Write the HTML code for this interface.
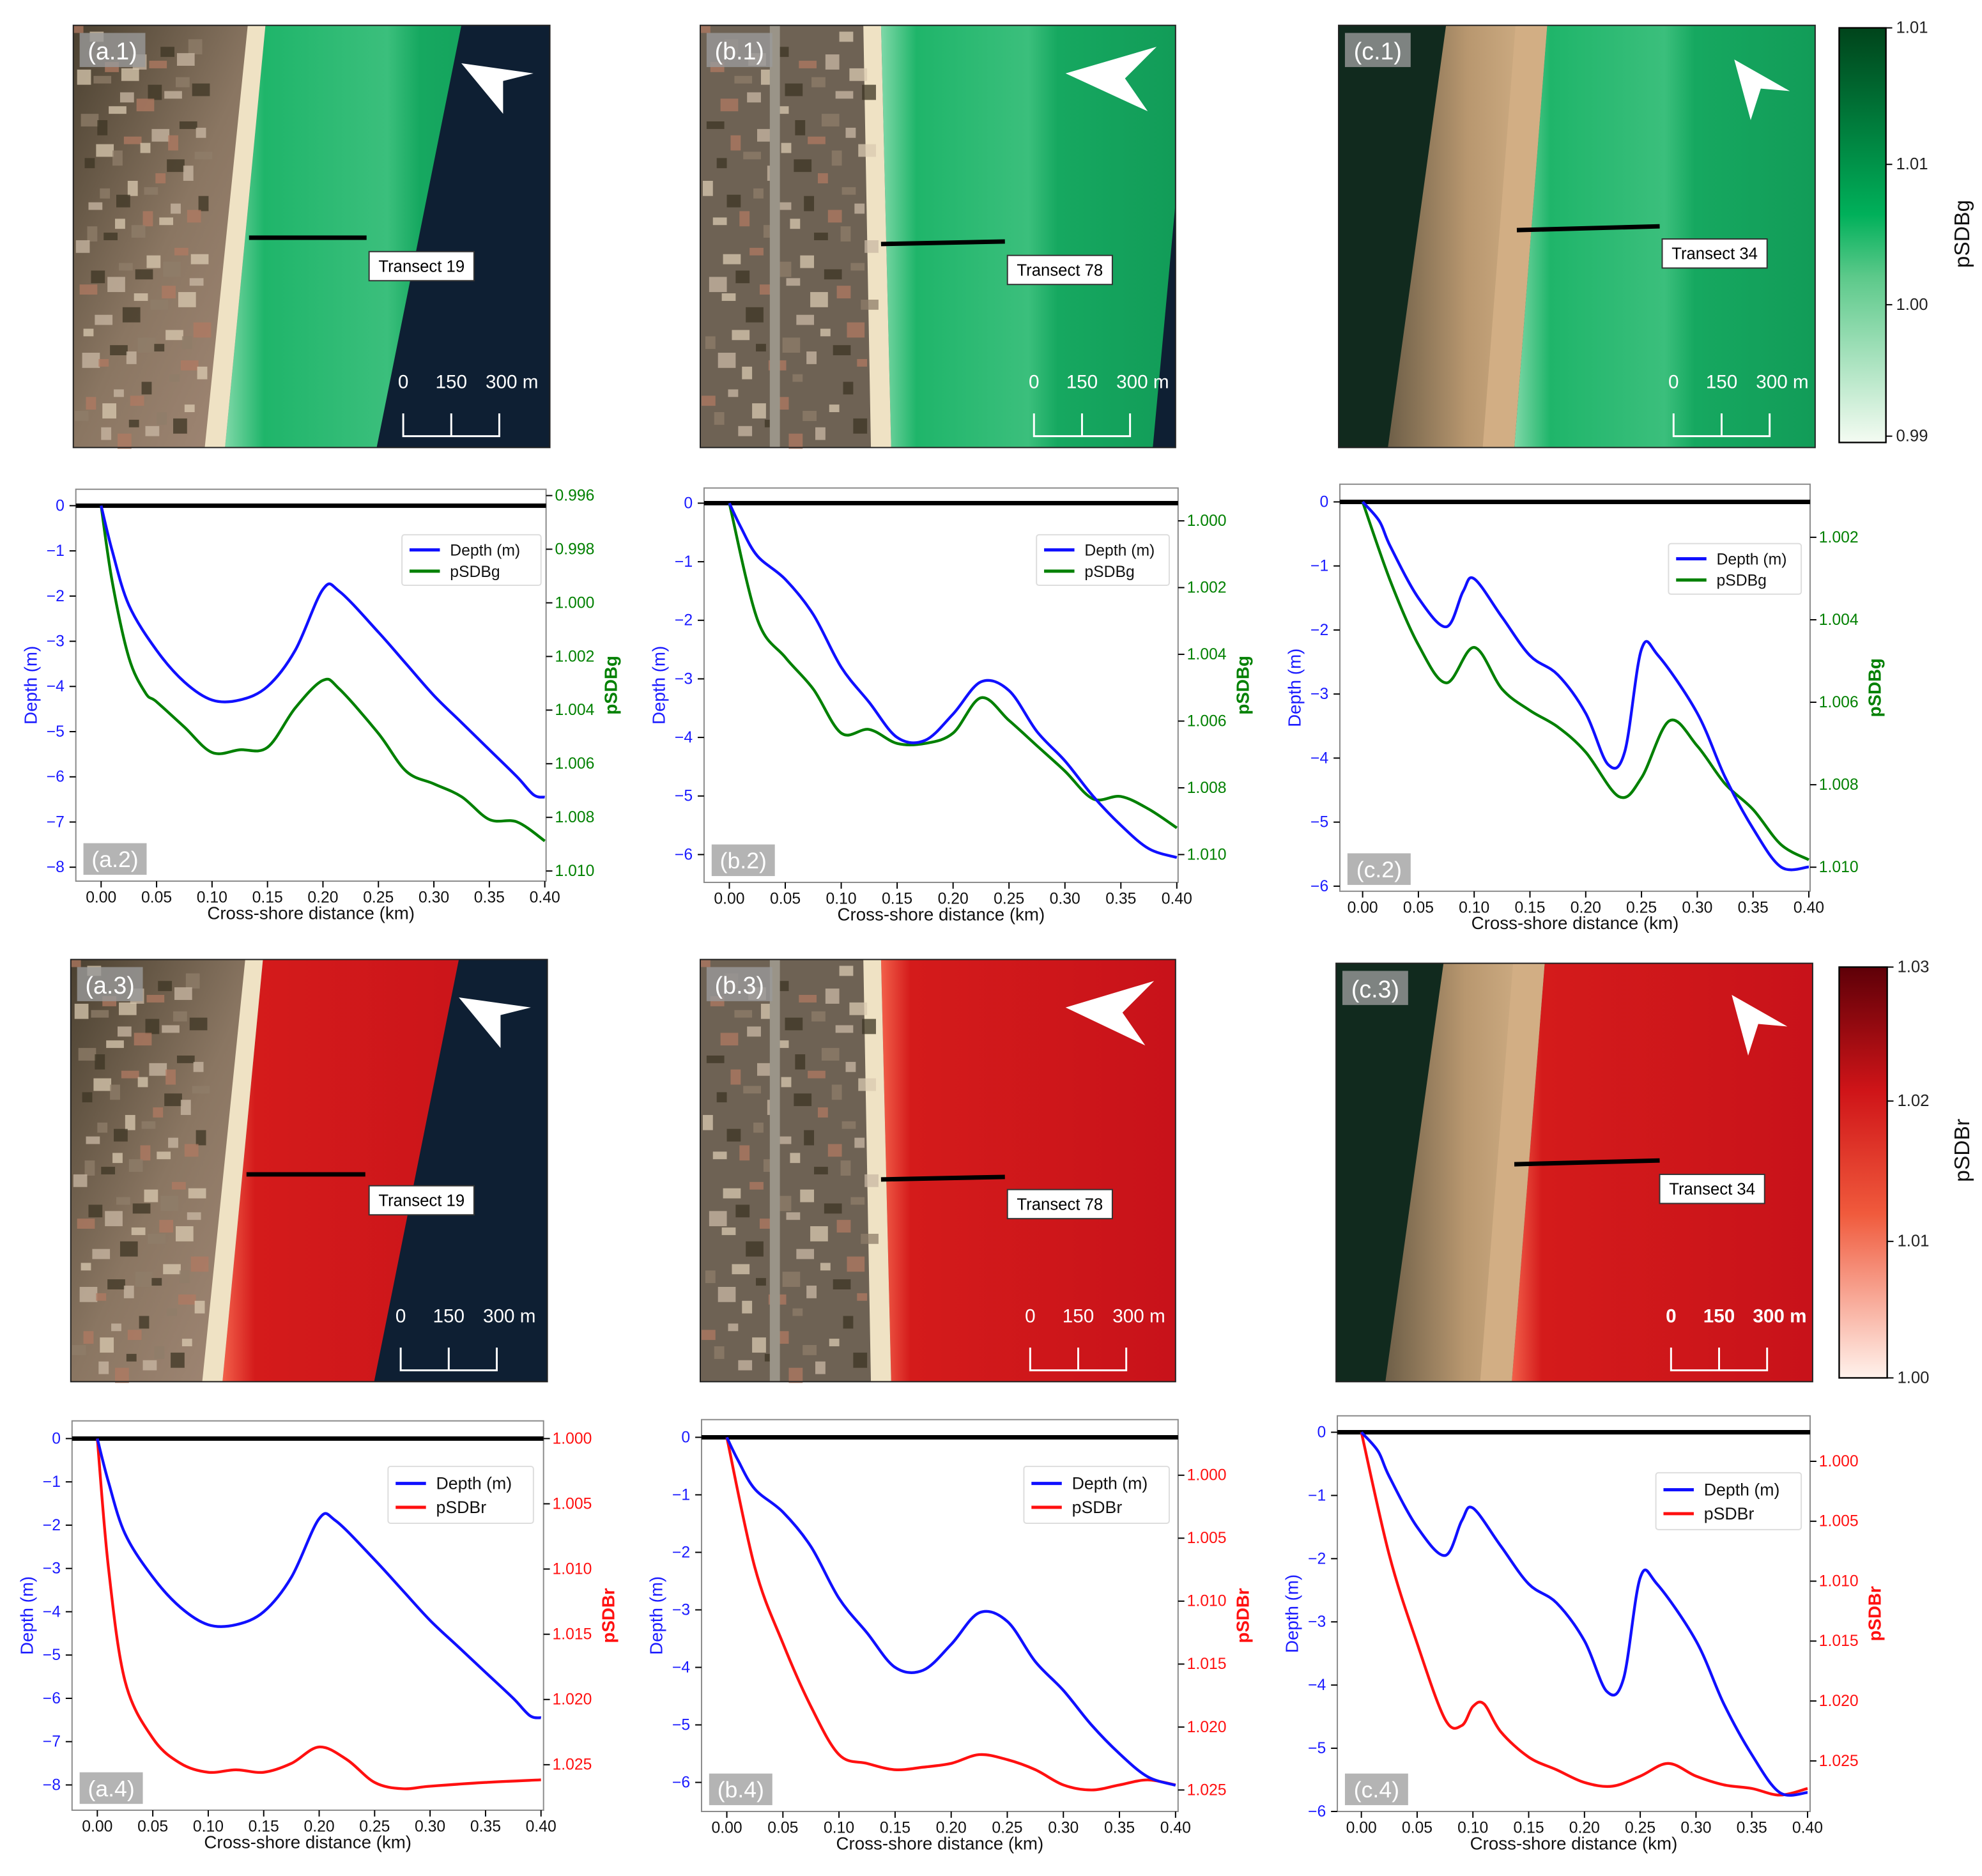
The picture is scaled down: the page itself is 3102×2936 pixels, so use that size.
<!DOCTYPE html>
<html><head><meta charset="utf-8"><style>
html,body{margin:0;padding:0;background:#fff}
svg{display:block;font-family:"Liberation Sans",sans-serif}
</style></head><body>
<svg id="fig" xmlns="http://www.w3.org/2000/svg" width="3102" height="2936" viewBox="0 0 1568 1484">
<defs>
<linearGradient id="gcb" x1="0" y1="0" x2="0" y2="1"><stop offset="0" stop-color="#00441b"/><stop offset="0.45" stop-color="#00b05a"/><stop offset="0.6" stop-color="#5cc98a"/><stop offset="1" stop-color="#f4fbf2"/></linearGradient>
<linearGradient id="rcb" x1="0" y1="0" x2="0" y2="1"><stop offset="0" stop-color="#5e0008"/><stop offset="0.3" stop-color="#cf1418"/><stop offset="0.6" stop-color="#f05a3c"/><stop offset="1" stop-color="#fff2ec"/></linearGradient>
<linearGradient id="gw" x1="0" y1="0" x2="1" y2="0"><stop offset="0" stop-color="#7fd8a8"/><stop offset="0.12" stop-color="#1fb56a"/><stop offset="0.5" stop-color="#3bbf7c"/><stop offset="0.6" stop-color="#16a860"/><stop offset="1" stop-color="#129c58"/></linearGradient>
<linearGradient id="rw" x1="0" y1="0" x2="1" y2="0"><stop offset="0" stop-color="#f2604a"/><stop offset="0.1" stop-color="#d41b1b"/><stop offset="1" stop-color="#c8121a"/></linearGradient>
<linearGradient id="townl" x1="0" y1="0" x2="1" y2="1"><stop offset="0" stop-color="#4a4030"/><stop offset="0.5" stop-color="#8a7662"/><stop offset="1" stop-color="#a58a78"/></linearGradient>
<linearGradient id="dune" x1="0" y1="0" x2="1" y2="0"><stop offset="0" stop-color="#10261c"/><stop offset="0.45" stop-color="#1d3326"/><stop offset="0.7" stop-color="#8a7458"/><stop offset="1" stop-color="#d4b088"/></linearGradient>
<linearGradient id="sandg" x1="0" y1="0" x2="1" y2="0"><stop offset="0" stop-color="#6e5f48"/><stop offset="0.5" stop-color="#b8976f"/><stop offset="1" stop-color="#d6b48a"/></linearGradient>
</defs>
<g id="imgs"></g>
<g id="charts"></g>
</svg>
<script>
// ---------- chart data ----------
const xTicks=[0,0.05,0.10,0.15,0.20,0.25,0.30,0.35,0.40];
const xTickLabels=["0.00","0.05","0.10","0.15","0.20","0.25","0.30","0.35","0.40"];
const aDepthX=[0,0.01,0.025,0.05,0.075,0.1,0.125,0.15,0.175,0.2,0.215,0.25,0.275,0.3,0.325,0.35,0.375,0.39,0.4];
const aDepth=[0,-1,-2.2,-3.2,-3.9,-4.3,-4.3,-4.0,-3.2,-1.85,-1.9,-2.8,-3.5,-4.2,-4.8,-5.4,-6.0,-6.4,-6.45];
const aGreenX=[0,0.01,0.025,0.04,0.05,0.075,0.1,0.125,0.15,0.175,0.2,0.215,0.25,0.275,0.3,0.325,0.35,0.375,0.4];
const aGreen=[0.99638,0.99921,1.00204,1.00336,1.00369,1.00463,1.00558,1.00548,1.00539,1.00392,1.00289,1.00322,1.00487,1.00628,1.00675,1.00723,1.00808,1.00817,1.00888];
const aRedX=[0,0.01,0.025,0.05,0.075,0.1,0.125,0.15,0.175,0.2,0.225,0.25,0.275,0.3,0.35,0.4];
const aRed=[1.0,1.00988,1.0186,1.02297,1.0249,1.02558,1.02539,1.02558,1.0249,1.02364,1.02461,1.02636,1.02684,1.02665,1.02636,1.02616];
const bDepthX=[0,0.01,0.025,0.05,0.075,0.1,0.125,0.15,0.175,0.2,0.225,0.25,0.275,0.3,0.325,0.35,0.375,0.4];
const bDepth=[0,-0.4,-0.9,-1.3,-1.9,-2.8,-3.4,-4.0,-4.05,-3.6,-3.05,-3.2,-3.9,-4.4,-5.0,-5.5,-5.9,-6.05];
const bGreenX=[0,0.025,0.05,0.075,0.1,0.125,0.15,0.175,0.2,0.225,0.25,0.275,0.3,0.325,0.35,0.375,0.4];
const bGreen=[0.99947,1.00295,1.00409,1.00504,1.00636,1.00625,1.00667,1.00667,1.00636,1.0053,1.00598,1.00674,1.0075,1.00833,1.00826,1.00864,1.0092];
const bRedX=[0,0.025,0.05,0.075,0.1,0.125,0.15,0.175,0.2,0.225,0.25,0.275,0.3,0.325,0.35,0.375,0.4];
const bRed=[0.99699,1.00733,1.01335,1.01837,1.02219,1.02289,1.02339,1.02319,1.02289,1.02219,1.02259,1.02339,1.0246,1.025,1.0246,1.0242,1.0246];
const cDepthX=[0,0.015,0.025,0.05,0.075,0.09,0.1,0.125,0.15,0.175,0.2,0.22,0.235,0.25,0.265,0.3,0.325,0.35,0.375,0.4];
const cDepth=[0,-0.3,-0.7,-1.5,-1.95,-1.4,-1.2,-1.8,-2.4,-2.7,-3.3,-4.1,-3.9,-2.3,-2.4,-3.3,-4.3,-5.1,-5.7,-5.7];
const cGreenX=[0,0.025,0.05,0.075,0.1,0.125,0.15,0.175,0.2,0.23,0.25,0.275,0.3,0.325,0.35,0.375,0.4];
const cGreen=[1.00114,1.00307,1.00461,1.00553,1.00467,1.00568,1.0062,1.0066,1.00721,1.00829,1.00783,1.00645,1.00706,1.00798,1.0086,1.00945,1.00982];
const cRedX=[0,0.025,0.05,0.075,0.09,0.1,0.11,0.125,0.15,0.175,0.2,0.225,0.25,0.275,0.3,0.325,0.35,0.375,0.4];
const cRed=[0.99757,1.00781,1.01519,1.02152,1.02205,1.02046,1.02025,1.02257,1.02468,1.02574,1.0268,1.02711,1.02627,1.02521,1.02627,1.027,1.0273,1.02785,1.0273];
const depthTicks8=[0,-1,-2,-3,-4,-5,-6,-7,-8];
const depthTicks6=[0,-1,-2,-3,-4,-5,-6];
const gTicksA=[0.996,0.998,1.000,1.002,1.004,1.006,1.008,1.010];
const gTicksB=[1.000,1.002,1.004,1.006,1.008,1.010];
const gTicksC=[1.002,1.004,1.006,1.008,1.010];
const rTicks=[1.000,1.005,1.010,1.015,1.020,1.025];

const NS="http://www.w3.org/2000/svg";
function mk(tag,attrs,parent,txt){const e=document.createElementNS(NS,tag);for(const k in attrs)e.setAttribute(k,attrs[k]);if(txt!==undefined)e.textContent=txt;if(parent)parent.appendChild(e);return e;}

// ---------- images ----------
const imgs=document.getElementById('imgs');
const panels=[
 {id:'a.1',x:58,y:20,w:377,h:334,kind:'town',shore:[210,178],deep:[[365,20],[298,354]],water:'gw',tr:[197,188,290,188],lab:[292,199,'Transect 19'],arrow:[[365,50],[422,58],[398,64],[398,90]],sb:319},
 {id:'b.1',x:554,y:20,w:376,h:334,kind:'town2',shore:[697,705],deep:null,water:'gw',tr:[697,193,795,191],lab:[797,202,'Transect 78'],arrow:[[843,58],[915,37],[890,62],[908,88]],sb:818},
 {id:'c.1',x:1059,y:20,w:377,h:334,kind:'dune',shore:[1224,1198],deep:null,water:'gw',tr:[1200,182,1313,179],lab:[1315,189,'Transect 34'],arrow:[[1372,47],[1416,72],[1393,70],[1385,95]],sb:1324},
 {id:'a.3',x:56,y:759,w:377,h:334,kind:'town',shore:[208,176],deep:[[363,759],[296,1093]],water:'rw',tr:[195,929,289,929],lab:[292,938,'Transect 19'],arrow:[[363,789],[420,797],[396,803],[396,829]],sb:317},
 {id:'b.3',x:554,y:759,w:376,h:334,kind:'town2',shore:[697,705],deep:null,water:'rw',tr:[697,933,795,931],lab:[797,941,'Transect 78'],arrow:[[843,797],[913,776],[888,801],[906,827]],sb:815},
 {id:'c.3',x:1057,y:762,w:377,h:331,kind:'dune',shore:[1222,1196],deep:null,water:'rw',tr:[1198,921,1313,918],lab:[1313,929,'Transect 34'],arrow:[[1370,787],[1414,812],[1391,810],[1383,835]],sb:1322}
];
panels.forEach(p=>{
 const g=mk('g',{},imgs);
 
 
 const x1=p.x+p.w,y1=p.y+p.h;
 mk('rect',{x:p.x,y:p.y,width:p.w,height:p.h,fill:p.water==='gw'?'#14a45c':'#cb141b'},g);
 mk('polygon',{points:`${p.shore[0]},${p.y} ${x1},${p.y} ${x1},${y1} ${p.shore[1]},${y1}`,fill:`url(#${p.water})`},g);
 if(p.deep){mk('polygon',{points:`${p.deep[0][0]},${p.deep[0][1]} ${x1},${p.deep[0][1]} ${x1},${y1} ${p.deep[1][0]},${p.deep[1][1]}`,fill:'#0e1f33'},g);}
 if(p.id==='b.1'){mk('polygon',{points:`930,160 930,354 912,354`,fill:'#0e1f33'},g);}
 if(p.kind==='dune'){
  mk('polygon',{points:`${p.x},${p.y} ${p.shore[0]},${p.y} ${p.shore[1]},${y1} ${p.x},${y1}`,fill:'#112a1e'},g);
  mk('polygon',{points:`${p.shore[0]-80},${p.y} ${p.shore[0]},${p.y} ${p.shore[1]},${y1} ${p.shore[1]-100},${y1}`,fill:'url(#sandg)'},g);
  mk('polygon',{points:`${p.shore[0]-25},${p.y} ${p.shore[0]},${p.y} ${p.shore[1]},${y1} ${p.shore[1]-25},${y1}`,fill:'#d2ae84'},g);
 } else {
  mk('polygon',{points:`${p.x},${p.y} ${p.shore[0]},${p.y} ${p.shore[1]},${y1} ${p.x},${y1}`,fill:p.kind==='town'?'url(#townl)':'#6e6254'},g);
  mk('polygon',{points:`${p.shore[0]-14},${p.y} ${p.shore[0]},${p.y} ${p.shore[1]},${y1} ${p.shore[1]-16},${y1}`,fill:'#efe2c4'},g);
  for(let i=0;i<90;i++){const bx=p.x+((i*37)%((p.shore[1]-p.x)-20)),by=p.y+((i*53)%(p.h-10));
   mk('rect',{x:bx,y:by,width:8+(i%3)*3,height:6+(i%4)*2,fill:['#b07a62','#c9b8a4','#3d3524','#8f7d6a','#d9c9b0'][i%5],opacity:0.75},g);}
  if(p.kind==='town2'){mk('rect',{x:p.x+55,y:p.y,width:8,height:p.h,fill:'#9a9488'},g);}
 }
 mk('line',{x1:p.tr[0],y1:p.tr[1],x2:p.tr[2],y2:p.tr[3],stroke:'#000','stroke-width':3.5},g);
 const lb=mk('g',{},g);
 
 
 mk('rect',{x:p.lab[0],y:p.lab[1],width:83,height:23,fill:'#fff',stroke:'#333','stroke-width':1},lb);
 mk('text',{x:p.lab[0]+41.5,y:p.lab[1]+16,'font-size':13,'text-anchor':'middle',fill:'#000'},lb,p.lab[2]);
 const ar=mk('polygon',{points:p.arrow.map(a=>a.join(',')).join(' '),fill:'#fff'},g);
 
 
 const sb=mk('g',{},g);
 
 
 const sy=y1-9,s0=p.sb;
 mk('path',{d:`M${s0},${sy-18} V${sy} H${s0+76} V${sy-18} M${s0+38},${sy} V${sy-18}`,stroke:'#fff','stroke-width':1.5,fill:'none'},sb);
 const bold=p.id==='c.3'?'bold':'normal';
 mk('text',{x:s0,y:sy-38,'font-size':15,fill:'#fff','text-anchor':'middle','font-weight':bold},sb,'0');
 mk('text',{x:s0+38,y:sy-38,'font-size':15,fill:'#fff','text-anchor':'middle','font-weight':bold},sb,'150');
 mk('text',{x:s0+86,y:sy-38,'font-size':15,fill:'#fff','text-anchor':'middle','font-weight':bold},sb,'300 m');
 const pl=mk('g',{},g);
 
 
 mk('rect',{x:p.x+5,y:p.y+6,width:52,height:27,fill:'#9a9a9a',opacity:0.8},pl);
 mk('text',{x:p.x+31,y:p.y+27,'font-size':19,fill:'#fff','text-anchor':'middle'},pl,'('+p.id+')');
 mk('rect',{x:p.x,y:p.y,width:p.w,height:p.h,fill:'none',stroke:'#222','stroke-width':1},g);
});

function colorbar(name,x,y,w,h,grad,ticks,label,ly){
 const g=mk('g',{},imgs);
 
 
 mk('rect',{x:x,y:y,width:w,height:h,fill:`url(#${grad})`,stroke:'#000','stroke-width':1.2},g);
 ticks.forEach(t=>{mk('line',{x1:x+w,y1:t[1],x2:x+w+5,y2:t[1],stroke:'#000'},g);
  mk('text',{x:x+w+8,y:t[1]+4,'font-size':13,fill:'#222'},g,t[0]);});
 mk('text',{x:0,y:0,'font-size':17,fill:'#111','text-anchor':'middle',transform:`translate(1558,${ly}) rotate(-90)`},g,label);
}
colorbar('colorbar-pSDBg',1455,22,37,328,'gcb',[['1.01',22],['1.01',130],['1.00',241],['0.99',345]],'pSDBg',185);
colorbar('colorbar-pSDBr',1455,765,38,325,'rcb',[['1.03',765],['1.02',871],['1.01',982],['1.00',1090]],'pSDBr',910);

// ---------- charts ----------
const charts=document.getElementById('charts');
function smooth(pts){let d=`M${pts[0][0]},${pts[0][1]}`;for(let i=0;i<pts.length-1;i++){const p0=pts[Math.max(0,i-1)],p1=pts[i],p2=pts[i+1],p3=pts[Math.min(pts.length-1,i+2)];
 const c1=[p1[0]+(p2[0]-p0[0])/6,p1[1]+(p2[1]-p0[1])/6],c2=[p2[0]-(p3[0]-p1[0])/6,p2[1]-(p3[1]-p1[1])/6];
 d+=` C${c1[0].toFixed(2)},${c1[1].toFixed(2)} ${c2[0].toFixed(2)},${c2[1].toFixed(2)} ${p2[0].toFixed(2)},${p2[1].toFixed(2)}`;}return d;}
function chart(c){
 const g=mk('g',{},charts);
 
 
 const sx=v=>c.x0+(v)*(c.x40-c.x0)/0.4;
 const sy=v=>c.d0+(v/c.dm)*(c.dmPx-c.d0);
 const sr=v=>c.r0px+(v-c.r0)/(c.r1-c.r0)*(c.r1px-c.r0px);
 mk('rect',{x:c.L,y:c.T,width:c.R-c.L,height:c.B-c.T,fill:'#fff',stroke:'#8a8a8a','stroke-width':1},g);
 const xa=mk('g',{},g);
 
 
 xTicks.forEach((t,i)=>{const X=sx(t);mk('line',{x1:X,y1:c.B,x2:X,y2:c.B+5,stroke:'#000'},xa);
  mk('text',{x:X,y:c.B+17,'font-size':12.5,'text-anchor':'middle',fill:'#111'},xa,xTickLabels[i]);});
 const xt=mk('text',{x:(c.L+c.R)/2,y:c.B+30,'font-size':14,'text-anchor':'middle',fill:'#111'},g,'Cross-shore distance (km)');
 
 
 const ya=mk('g',{},g);
 
 
 c.dTicks.forEach(t=>{const Y=sy(t);mk('line',{x1:c.L-5,y1:Y,x2:c.L,y2:Y,stroke:'#000'},ya);
  mk('text',{x:c.L-9,y:Y+4,'font-size':12.5,'text-anchor':'end',fill:'#1a1aff'},ya,String(t).replace('-','\u2212'));});
 const yt=mk('text',{x:0,y:0,'font-size':14,'text-anchor':'middle',fill:'#1a1aff',transform:`translate(${c.L-31},${(c.T+c.B)/2}) rotate(-90)`},g,'Depth (m)');
 
 
 const ra=mk('g',{},g);
 
 
 c.rTicks.forEach(t=>{const Y=sr(t);mk('line',{x1:c.R,y1:Y,x2:c.R+5,y2:Y,stroke:'#000'},ra);
  mk('text',{x:c.R+7,y:Y+4,'font-size':12.5,fill:c.col},ra,t.toFixed(3));});
 const rt=mk('text',{x:0,y:0,'font-size':14,'font-weight':'bold','text-anchor':'middle',fill:c.col,transform:`translate(${c.R+56},${(c.T+c.B)/2}) rotate(-90)`},g,c.rName);
 
 
 const zl=mk('line',{x1:c.L,y1:sy(0),x2:c.R,y2:sy(0),stroke:'#000','stroke-width':3.5},g);
 
 
 const sp=mk('path',{d:smooth(c.sX.map((x,i)=>[sx(x),sr(c.sV[i])])),stroke:c.col,'stroke-width':2.2,fill:'none'},g);
 
 
 const dp=mk('path',{d:smooth(c.dX.map((x,i)=>[sx(x),sy(c.dV[i])])),stroke:'#1010ff','stroke-width':2.2,fill:'none'},g);
 
 
 const lg=mk('g',{},g);
 
 
 const [lx,ly,lw,lh]=c.leg;
 mk('rect',{x:lx,y:ly,width:lw,height:lh,fill:'#fff',stroke:'#ddd',rx:2},lg);
 const fs=c.big?13.5:12.5;
 mk('line',{x1:lx+6,y1:ly+lh*0.3,x2:lx+30,y2:ly+lh*0.3,stroke:'#1010ff','stroke-width':2.5},lg);
 mk('text',{x:lx+38,y:ly+lh*0.3+4.5,'font-size':fs,fill:'#111'},lg,'Depth (m)');
 mk('line',{x1:lx+6,y1:ly+lh*0.72,x2:lx+30,y2:ly+lh*0.72,stroke:c.col,'stroke-width':2.5},lg);
 mk('text',{x:lx+38,y:ly+lh*0.72+4.5,'font-size':fs,fill:'#111'},lg,c.rName);
 const pl=mk('g',{},g);
 
 
 mk('rect',{x:c.L+6,y:c.B-30,width:50,height:25,fill:'#b4b4b4'},pl);
 mk('text',{x:c.L+31,y:c.B-11,'font-size':18,fill:'#fff','text-anchor':'middle'},pl,'('+c.id+')');
}
const G='#008000',Rc='#ff1010';
chart({id:'a.2',L:60,R:432,T:387,B:697,x0:80,x40:431,d0:400,dm:-8,dmPx:686,dTicks:depthTicks8,r0:0.996,r1:1.010,r0px:392,r1px:689,rTicks:gTicksA,col:G,rName:'pSDBg',dX:aDepthX,dV:aDepth,sX:aGreenX,sV:aGreen,leg:[318,423,110,40]});
chart({id:'b.2',L:557,R:932,T:386,B:698,x0:577,x40:931,d0:398,dm:-6,dmPx:676,dTicks:depthTicks6,r0:1.000,r1:1.010,r0px:412,r1px:676,rTicks:gTicksB,col:G,rName:'pSDBg',dX:bDepthX,dV:bDepth,sX:bGreenX,sV:bGreen,leg:[820,423,105,40]});
chart({id:'c.2',L:1060,R:1432,T:383,B:705,x0:1078,x40:1431,d0:397,dm:-6,dmPx:701,dTicks:depthTicks6,r0:1.002,r1:1.010,r0px:425,r1px:686,rTicks:gTicksC,col:G,rName:'pSDBg',dX:cDepthX,dV:cDepth,sX:cGreenX,sV:cGreen,leg:[1320,430,105,40]});
chart({id:'a.4',L:57,R:430,T:1124,B:1432,x0:77,x40:428,d0:1138,dm:-8,dmPx:1412,dTicks:depthTicks8,r0:1.000,r1:1.025,r0px:1138,r1px:1396,rTicks:rTicks,col:Rc,rName:'pSDBr',dX:aDepthX,dV:aDepth,sX:aRedX,sV:aRed,leg:[307,1160,115,45],big:true});
chart({id:'b.4',L:555,R:932,T:1123,B:1433,x0:575,x40:930,d0:1137,dm:-6,dmPx:1410,dTicks:depthTicks6,r0:1.000,r1:1.025,r0px:1167,r1px:1416,rTicks:rTicks,col:Rc,rName:'pSDBr',dX:bDepthX,dV:bDepth,sX:bRedX,sV:bRed,leg:[810,1160,115,45],big:true});
chart({id:'c.4',L:1058,R:1432,T:1120,B:1433,x0:1077,x40:1430,d0:1133,dm:-6,dmPx:1433,dTicks:depthTicks6,r0:1.000,r1:1.025,r0px:1156,r1px:1393,rTicks:rTicks,col:Rc,rName:'pSDBr',dX:cDepthX,dV:cDepth,sX:cRedX,sV:cRed,leg:[1310,1165,115,45],big:true});
</script>
</body></html>
